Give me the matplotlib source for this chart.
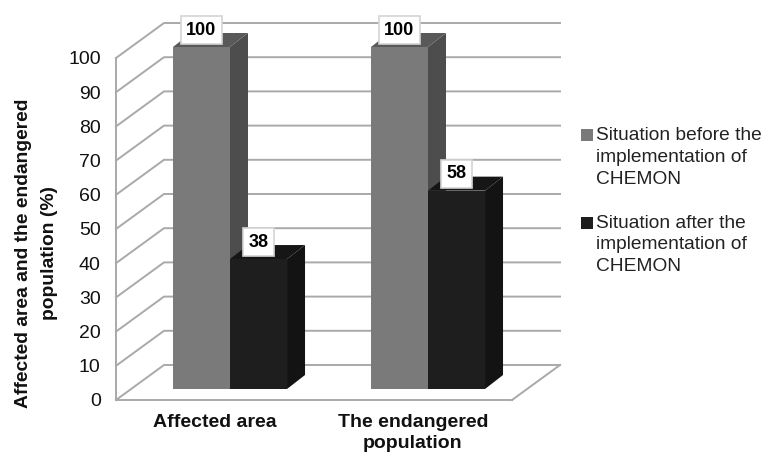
import matplotlib
matplotlib.use("Agg")
import matplotlib.pyplot as plt
from matplotlib.patches import Polygon, Patch, Rectangle
from matplotlib.legend_handler import HandlerPatch

plt.rcParams['font.family'] = ['Liberation Sans', 'DejaVu Sans']

categories = ["Affected area", "The endangered\npopulation"]
before = [100, 100]
after = [38, 58]
series_names = ["Situation before the\nimplementation of\nCHEMON",
                "Situation after the\nimplementation of\nCHEMON"]
y_ticks = [0, 10, 20, 30, 40, 50, 60, 70, 80, 90, 100]

W, H = 763, 453
fig = plt.figure(figsize=(W / 100, H / 100), dpi=100, facecolor="white")
ax = fig.add_axes([116 / W, 1 - 400 / H, 396 / W, 342 / H])
ax.set_xlim(0, 2)
ax.set_ylim(0, 100)
ax.patch.set_visible(False)

# 3d look, wall depth and bar depth in data units
depth_x = 48 / 198
depth_y = 35 / 3.42
bar_w = 0.288
off_x = 15 / 198
off_y = 11 / 3.42
side_x = 18 / 198
side_y = 14 / 3.42
wall = "#a9a9a9"

for v in y_ticks:
    ax.plot([0, depth_x, 2 + depth_x], [v, v + depth_y, v + depth_y], color=wall, lw=1.4, clip_on=False, zorder=1)
ax.plot([2, 2 + depth_x], [0, depth_y], color=wall, lw=1.4, clip_on=False, zorder=1)


def draw_bar(x, val, front, side, top):
    x0 = x + off_x
    y0 = off_y
    y1 = val + off_y
    x1 = x0 + bar_w
    ax.add_patch(Polygon([(x1, y0), (x1 + side_x, y0 + side_y), (x1 + side_x, y1 + side_y), (x1, y1)],
                         fc=side, ec="none", clip_on=False, zorder=3))
    ax.add_patch(Polygon([(x0, y1), (x1, y1), (x1 + side_x, y1 + side_y), (x0 + side_x, y1 + side_y)],
                         fc=top, ec="none", clip_on=False, zorder=3))
    ax.add_patch(Polygon([(x0, y0), (x1, y0), (x1, y1), (x0, y1)],
                         fc=front, ec="none", clip_on=False, zorder=3))
    ax.annotate(str(val), (x0 + bar_w / 2, y1), xytext=(0, 12), textcoords="offset points",
                ha="center", va="center", fontsize=13, fontweight="bold", color="black", zorder=5,
                bbox=dict(boxstyle="square,pad=0.3", fc="white", ec="#d4d4d4", lw=1.2),
                annotation_clip=False)


for i in range(len(categories)):
    start = i + 0.212
    draw_bar(start, before[i], "#7a7a7a", "#4d4d4d", "#595959")
    draw_bar(start + bar_w, after[i], "#1e1e1e", "#131313", "#161616")

for s in ["top", "right"]:
    ax.spines[s].set_visible(False)
for s in ["left", "bottom"]:
    ax.spines[s].set_color(wall)
    ax.spines[s].set_linewidth(1.4)

ax.set_yticks(y_ticks)
ax.set_yticklabels([str(v) for v in y_ticks], fontsize=14, color="#111111")
ax.set_xticks([0.5, 1.5])
ax.set_xticklabels(categories, fontsize=14, fontweight="bold", color="#111111", linespacing=1.3)
ax.tick_params(length=0)
ax.tick_params(axis="y", pad=11)
ax.tick_params(axis="x", pad=10)

fig.text(36.5 / W, 1 - 253 / H, "Affected area and the endangered\npopulation (%)", rotation=90,
         ha="center", va="center", fontsize=13.9, fontweight="bold", color="#111111", linespacing=1.65,
         multialignment="center")


# legend square sits next to the first text line, not the middle one
def top_square(legend, orig_handle, xdescent, ydescent, width, height, fontsize):
    return Rectangle((-xdescent, -ydescent + 15.8), width, height)


handles = [Patch(fc="#7a7a7a"), Patch(fc="#1e1e1e")]
leg = fig.legend(handles, series_names, loc="upper left", bbox_to_anchor=(581 / W, 1 - 127 / H), frameon=False,
                 fontsize=13.8, handlelength=0.6, handleheight=0.6, handletextpad=0.2, labelspacing=1.41,
                 labelcolor="#222222", borderpad=0, borderaxespad=0,
                 handler_map={Patch: HandlerPatch(patch_func=top_square)})
for t in leg.get_texts():
    t.set_linespacing(1.37)

fig.savefig("out.png", dpi=100, facecolor="white")
